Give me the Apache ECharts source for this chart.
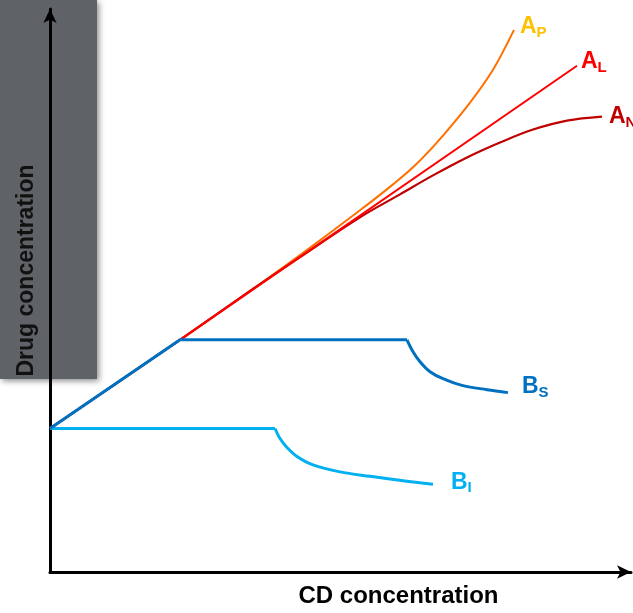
<!DOCTYPE html>
<html><head><meta charset="utf-8">
<script src="https://cdn.jsdelivr.net/npm/echarts@6/dist/echarts.min.js"></script>
<style>html,body{margin:0;padding:0;background:#fff}#c{width:633px;height:613px}</style>
</head><body><div id="c"></div>
<script>
// Phase-solubility diagram (arbitrary units)
const apX = [0, 13, 20, 25, 31, 34.3, 36.7, 39.3, 42, 44.3, 46.4];
const apY = [14.4, 23.3, 28.2, 31.8, 36.3, 38.9, 41.0, 43.8, 47.1, 50.4, 54.4];
const alX = [0, 13, 52.7];
const alY = [14.4, 23.3, 50.8];
const anX = [0, 13, 20, 25, 31, 35, 38.3, 41.7, 45, 48.3, 51.7, 55.2];
const anY = [14.4, 23.3, 28.2, 31.6, 35.6, 37.9, 39.8, 41.6, 43.1, 44.4, 45.3, 45.7];
const bsLinX = [0, 13, 35.7];
const bsLinY = [14.4, 23.3, 23.3];
const bsCurX = [35.7, 36.3, 37, 38, 39.3, 41.3, 43.7, 45.8];
const bsCurY = [23.3, 22.1, 21.1, 20.1, 19.4, 18.7, 18.3, 18.0];
const biLinX = [0, 22.5];
const biLinY = [14.4, 14.4];
const biCurX = [22.5, 23, 23.7, 24.7, 26.3, 29, 32, 35.3, 38.3];
const biCurY = [14.4, 13.4, 12.5, 11.6, 10.75, 10.05, 9.6, 9.15, 8.8];

const zip = (xs, ys) => xs.map((x, i) => [x, ys[i]]);
const FONT = '"Liberation Sans", Arial, sans-serif';

function lbl(main, sub, color, offset) {
  return {
    show: true, distance: 4, offset: offset,
    formatter: '{a|' + main + '}{s|' + sub + '}',
    rich: {
      a: { fontSize: 23, fontWeight: 'bold', color: color, fontFamily: FONT, lineHeight: 26 },
      s: { fontSize: 15, fontWeight: 'bold', color: color, fontFamily: FONT, padding: [12, 0, 0, 0], lineHeight: 26 }
    }
  };
}
function line(name, data, color, width, smooth, endLabel, z) {
  return {
    type: 'line', name: name, data: data, showSymbol: false, symbol: 'none',
    smooth: smooth, lineStyle: { color: color, width: width }, itemStyle: { color: color },
    endLabel: endLabel || { show: false }, z: z || 2, animation: false, silent: true, clip: false
  };
}

const chart = echarts.init(document.getElementById('c'), null, { renderer: 'canvas' });
chart.setOption({
  animation: false,
  backgroundColor: '#ffffff',
  graphic: [{
    type: 'rect', z: -10, shape: { x: 0, y: 0, width: 97, height: 379 },
    style: { fill: '#5f6367', shadowBlur: 6, shadowColor: 'rgba(0,0,0,0.45)', shadowOffsetX: 2, shadowOffsetY: 2 }
  }],
  grid: { left: 50, right: 2, top: 9, bottom: 39 },
  xAxis: {
    type: 'value', min: 0, max: 58.1,
    name: 'CD concentration', nameLocation: 'middle', nameGap: 12,
    nameTextStyle: { fontSize: 24, fontWeight: 'bold', color: '#000', fontFamily: FONT, padding: [0, 0, 0, 116] },
    axisLine: { show: true, symbol: ['none', 'arrow'], symbolSize: [10, 14], lineStyle: { color: '#000', width: 3 } },
    axisTick: { show: false }, axisLabel: { show: false }, splitLine: { show: false }
  },
  yAxis: {
    type: 'value', min: 0, max: 56.5,
    name: 'Drug concentration', nameLocation: 'middle', nameRotate: 90, nameGap: 12,
    nameTextStyle: { fontSize: 23, fontWeight: 'bold', color: '#111', fontFamily: FONT, padding: [0, 0, 0, 40] },
    axisLine: { show: true, symbol: ['none', 'arrow'], symbolSize: [10, 14], lineStyle: { color: '#000', width: 3 } },
    axisTick: { show: false }, axisLabel: { show: false }, splitLine: { show: false }
  },
  series: [
    line('AP', zip(apX, apY), '#FF7000', 2, 0.35, lbl('A', 'P', '#FFC000', [2, -3])),
    line('AN', zip(anX, anY), '#C00000', 2.2, 0.35, lbl('A', 'N', '#C00000', [3, 0])),
    line('AL', zip(alX, alY), '#FF0000', 2, false, lbl('A', 'L', '#FF0000', [0, -4])),
    line('BI', zip(biLinX, biLinY), '#00B0F0', 3, false, null, 3),
    line('BIc', zip(biCurX, biCurY), '#00B0F0', 3, 0.35, lbl('B', 'I', '#00B0F0', [14, -2]), 3),
    line('BS', zip(bsLinX, bsLinY), '#0070C0', 3, false, null, 4),
    line('BSc', zip(bsCurX, bsCurY), '#0070C0', 3, 0.35, lbl('B', 'S', '#0070C0', [10, -6]), 4)
  ]
});
</script></body></html>
